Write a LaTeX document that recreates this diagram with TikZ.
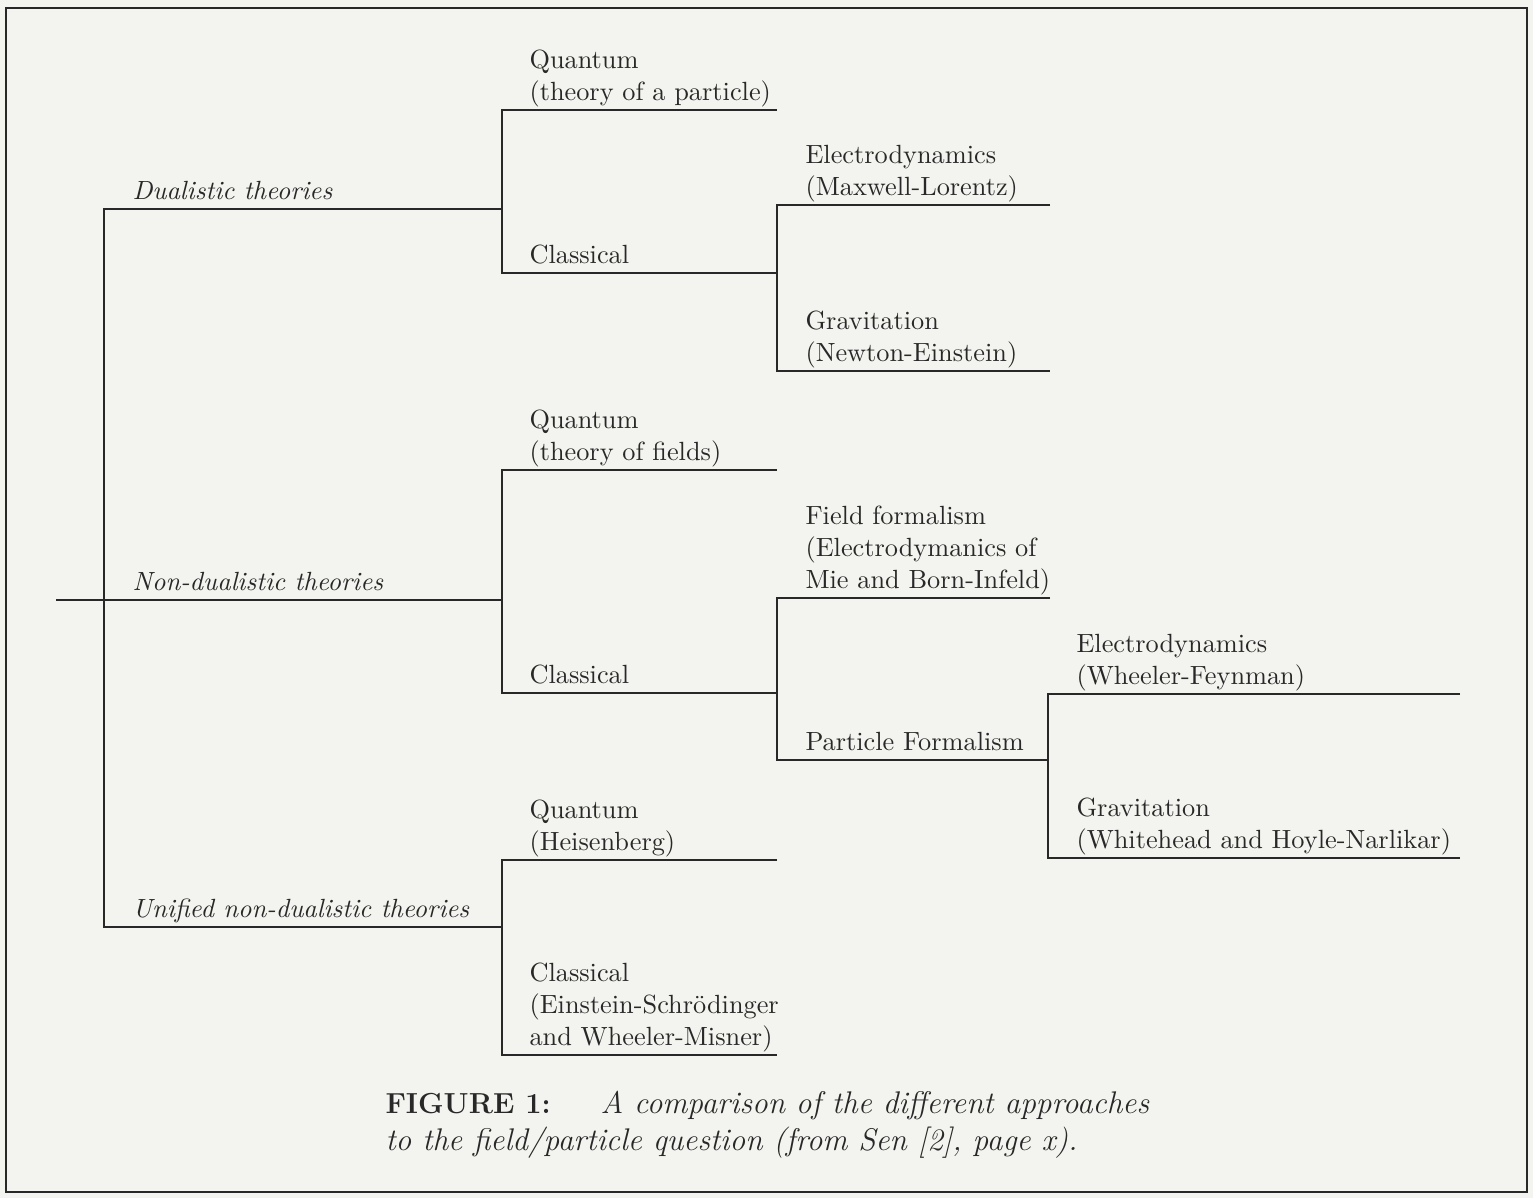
\documentclass[tikz,border=0pt]{standalone}
\usepackage{fontspec}
\begin{document}
\begin{tikzpicture}[x=0.38pt,y=-0.38pt,
  lbl/.style={anchor=base west, inner sep=0pt, align=left, font=\fontsize{10}{12}\selectfont, text=ink},
  ilbl/.style={lbl, font=\fontsize{10}{12}\selectfont\itshape},
  tree/.style={draw=ink, line width=0.75pt},
  frame/.style={draw=ink, line width=1pt}]
\definecolor{paper}{RGB}{243,243,239}
\definecolor{ink}{RGB}{40,40,40}
\fill[paper] (0,0) rectangle (1533,1198);
\useasboundingbox (0,0) rectangle (1533,1198);
\draw[frame] (6,8) rectangle (1527,1192);

% junction coordinates
\coordinate (r0) at (56,600);
\coordinate (r1) at (104,600);
\coordinate (dT) at (104,209);
\coordinate (uB) at (104,927);
\coordinate (dE) at (502,209);
\coordinate (nE) at (502,600);
\coordinate (uE) at (502,927);
% dualistic subtree
\coordinate (dq0) at (502,110); \coordinate (dq1) at (777,110);
\coordinate (dc0) at (502,273); \coordinate (dc1) at (777,273);
\coordinate (de0) at (777,205); \coordinate (de1) at (1050,205);
\coordinate (dg0) at (777,371); \coordinate (dg1) at (1050,371);
% non-dualistic subtree
\coordinate (nq0) at (502,470); \coordinate (nq1) at (777,470);
\coordinate (nc0) at (502,693); \coordinate (nc1) at (777,693);
\coordinate (nf0) at (777,598); \coordinate (nf1) at (1050,598);
\coordinate (np0) at (777,760); \coordinate (np1) at (1048,760);
\coordinate (ne0) at (1048,694); \coordinate (ne1) at (1460,694);
\coordinate (ng0) at (1048,858); \coordinate (ng1) at (1460,858);
% unified subtree
\coordinate (uq0) at (502,860); \coordinate (uq1) at (777,860);
\coordinate (uc0) at (502,1055); \coordinate (uc1) at (777,1055);

% tree lines
\draw[tree] (r0) -- (nE);
\draw[tree] (dE) -- (dT) -- (uB) -- (uE);
\draw[tree] (dq1) -- (dq0) -- (dc0) -- (dc1);
\draw[tree] (de1) -- (de0) -- (dg0) -- (dg1);
\draw[tree] (nq1) -- (nq0) -- (nc0) -- (nc1);
\draw[tree] (nf1) -- (nf0) -- (np0) -- (np1);
\draw[tree] (ne1) -- (ne0) -- (ng0) -- (ng1);
\draw[tree] (uq1) -- (uq0) -- (uc0) -- (uc1);

% labels (base = baseline of last line)
\node[ilbl] (Ldual) at (132,199) {Dualistic theories};
\node[ilbl] (Lnon) at (132,590) {Non-dualistic theories};
\node[ilbl] (Luni) at (132,917) {Unified non-dualistic theories};

\node[lbl] (Ldq) at (529,100) {Quantum\\(theory of a particle)};
\node[lbl] (Ldc) at (529,263) {Classical};
\node[lbl] (Lde) at (805,195) {Electrodynamics\\(Maxwell-Lorentz)};
\node[lbl] (Ldg) at (805,361) {Gravitation\\(Newton-Einstein)};

\node[lbl] (Lnq) at (529,460) {Quantum\\(theory of fields)};
\node[lbl] (Lnc) at (529,683) {Classical};
\node[lbl] (Lnf) at (805,588) {Field formalism\\(Electrodymanics of\\Mie and Born-Infeld)};
\node[lbl] (Lnp) at (805,750) {Particle Formalism};
\node[lbl] (Lne) at (1076,684) {Electrodynamics\\(Wheeler-Feynman)};
\node[lbl] (Lng) at (1076,848) {Gravitation\\(Whitehead and Hoyle-Narlikar)};

\node[lbl] (Luq) at (529,850) {Quantum\\(Heisenberg)};
\node[lbl] (Luc) at (529,1045) {Classical\\(Einstein-Schrödinger\\and Wheeler-Misner)};

% caption
\node[lbl, font=\fontsize{11}{14}\selectfont\bfseries] (Cap0) at (385,1113) {FIGURE 1:};
\node[lbl, font=\fontsize{11.9}{14}\selectfont\itshape] (Cap1) at (600,1113) {A comparison of the different approaches};
\node[lbl, font=\fontsize{11.9}{14}\selectfont\itshape] (Cap2) at (385,1150) {to the field/particle question (from Sen [2], page x).};
\end{tikzpicture}
\end{document}
